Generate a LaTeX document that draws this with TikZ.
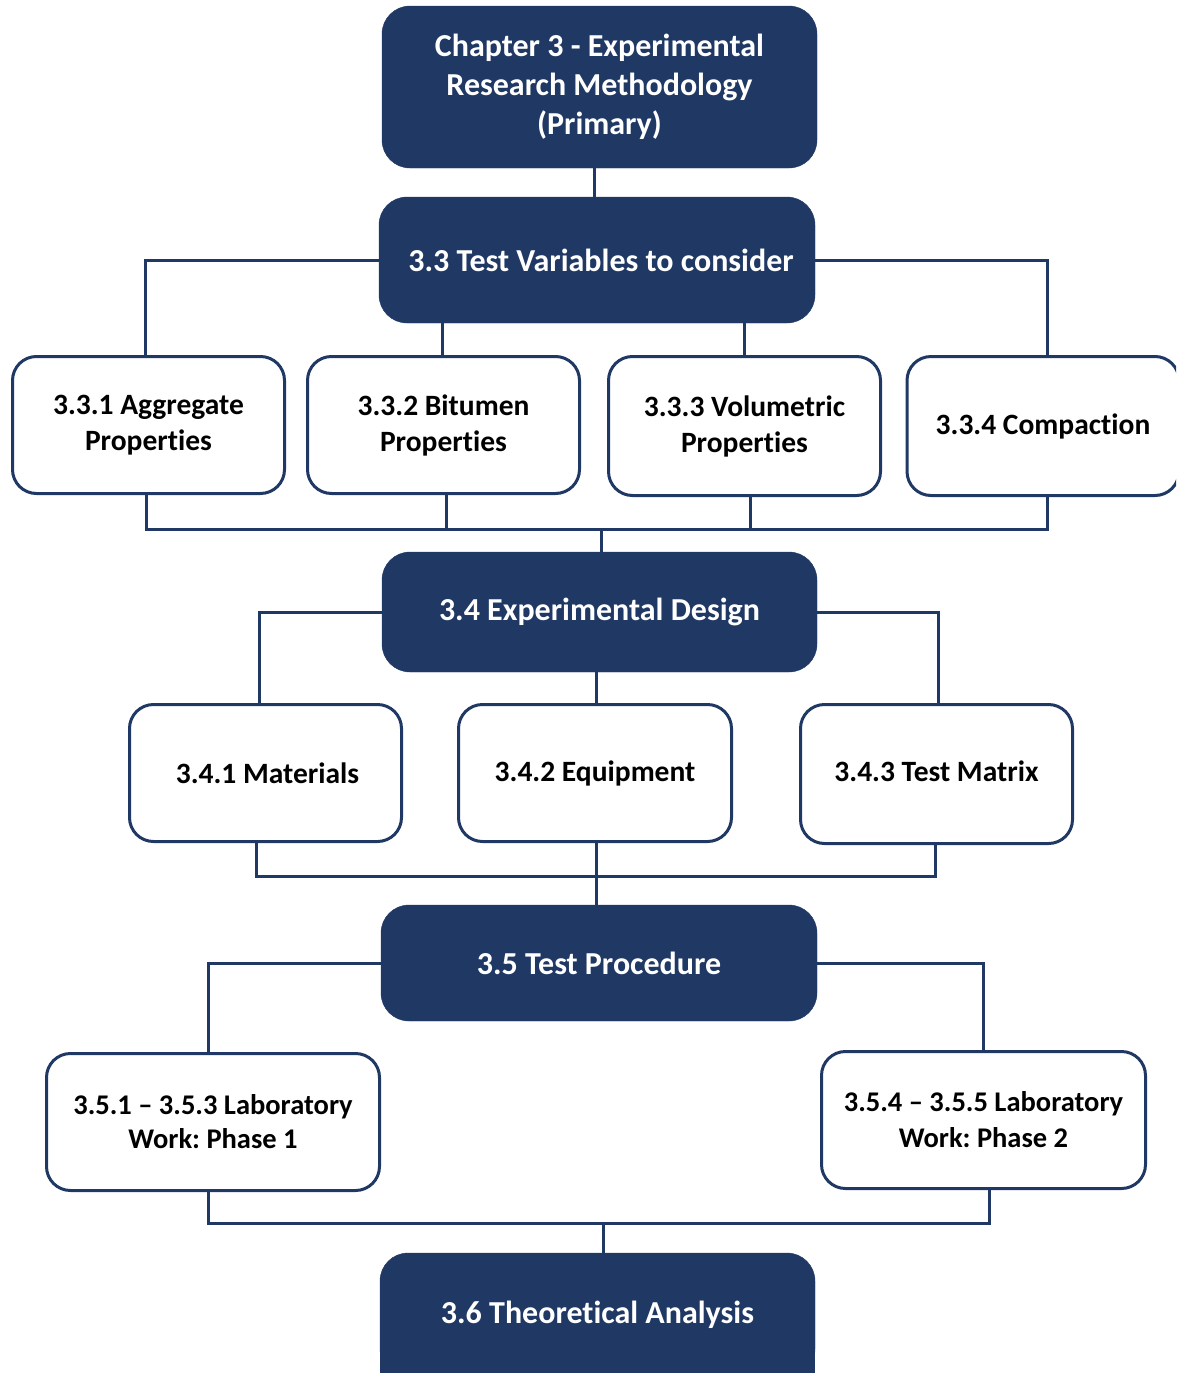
\documentclass[tikz,border=0pt]{standalone}
\usepackage{fontspec}
\setmainfont{Carlito}[Ligatures={NoCommon}]
\usetikzlibrary{backgrounds}
\definecolor{navy}{HTML}{203864}
\frenchspacing
\begin{document}
\begin{tikzpicture}[x=1pt,y=-1pt,
  headbox/.style={draw=navy, fill=navy, text=white, rounded corners=28pt,
    font=\fontsize{32}{39}\selectfont\bfseries, align=center, inner sep=0pt},
  subbox/.style={draw=navy, line width=3pt, fill=white, text=black, rounded corners=24pt,
    font=\fontsize{29.5}{36}\selectfont\bfseries, align=center, inner sep=0pt,
    minimum width=272pt, minimum height=137pt},
  link/.style={draw=navy, line width=3pt}]
\useasboundingbox (0,0) rectangle (1176,1373);
\clip (0,0) rectangle (1176,1373);

% main chapter heading and its sections
\node[headbox, minimum width=435pt, minimum height=162pt] (chap) at (599.5,87)
  {Chapter 3 - Experimental\\Research Methodology\\(Primary)};
\node[headbox, minimum width=436pt, minimum height=126pt] (t33) at (597,260)
  {\hspace*{8pt}3.3 Test Variables to consider};
\node[headbox, minimum width=435pt, minimum height=120pt] (t34) at (599.5,612)
  {3.4 Experimental Design};
\node[headbox, minimum width=436pt, minimum height=116pt] (t35) at (599,963)
  {3.5 Test Procedure};
\node[headbox, minimum width=435pt, minimum height=124pt] (t36) at (597.5,1315)
  {3.6 Theoretical Analysis};
\begin{scope}[on background layer]
  % square off the lower part of the last box, which runs past the page edge
  \fill[navy] ([yshift=30pt]t36.south west) rectangle ([yshift=-10pt]t36.south east);
\end{scope}

% 3.3 subsections
\node[subbox] (b331) at (148.5,425) {3.3.1 Aggregate\\Properties};
\node[subbox] (b332) at (443.5,425) {3.3.2 Bitumen\\Properties};
\node[subbox, minimum height=139pt] (b333) at (744.5,426) {3.3.3 Volumetric\\Properties};
\node[subbox, minimum height=139pt] (b334) at (1043,426) {3.3.4 Compaction};

% 3.4 subsections
\node[subbox] (b341) at (265.5,773) {\hspace*{4pt}3.4.1 Materials};
\node[subbox, minimum width=273pt] (b342) at (595,773) {\raisebox{-1pt}{3.4.2 Equipment}};
\node[subbox, minimum height=139pt] (b343) at (936.5,774) {\raisebox{5pt}{3.4.3 Test Matrix}};

% 3.5 subsections
\node[subbox, minimum width=333pt, font=\fontsize{28.5}{34}\selectfont\bfseries] (b351) at (213,1122)
  {3.5.1 -- 3.5.3 Laboratory\\Work: Phase 1};
\node[subbox, minimum width=324pt, font=\fontsize{28.5}{36}\selectfont\bfseries] (b354) at (983.5,1120)
  {3.5.4 -- 3.5.5 Laboratory\\Work: Phase 2};

% bus points
\coordinate (busA) at (601,529);
\coordinate (busB) at (596,876);
\coordinate (busC) at (603,1223);

% connectors
\draw[link] ([xshift=-5.5pt]chap.south) -- ([xshift=-5.5pt]chap.south |- t33.north);
\draw[link] (t33.west) -| ([xshift=-3.5pt]b331.north);
\draw[link] (t33.east) -| ([xshift=4pt]b334.north);
\draw[link] ([xshift=-1.5pt]b332.north) -- ([xshift=-1.5pt]b332.north |- t33.south);
\draw[link] (b333.north) -- (b333.north |- t33.south);

\draw[link] ([xshift=-2.5pt]b331.south) |- (busA) -| ([xshift=4pt]b334.south);
\draw[link] ([xshift=2.5pt]b332.south) -- ([xshift=2.5pt]b332.south |- busA);
\draw[link] ([xshift=5.5pt]b333.south) -- ([xshift=5.5pt]b333.south |- busA);
\draw[link] (busA) -- (busA |- t34.north);

\draw[link] (t34.west) -| ([xshift=-6.5pt]b341.north);
\draw[link] (t34.east) -| ([xshift=1.5pt]b343.north);
\draw[link] ([xshift=1pt]b342.north) -- ([xshift=1pt]b342.north |- t34.south);

\draw[link] ([xshift=-9.5pt]b341.south) |- (busB) -| ([xshift=-1.5pt]b343.south);
\draw[link] ([xshift=1pt]b342.south) -- ([xshift=1pt]b342.south |- t35.north);

\draw[link] (t35.west) -| ([xshift=-5pt]b351.north);
\draw[link] (t35.east) -| ([xshift=-0.5pt]b354.north);

\draw[link] ([xshift=-5pt]b351.south) |- (busC) -| ([xshift=5.5pt]b354.south);
\draw[link] (busC) -- (busC |- t36.north);
\end{tikzpicture}
\end{document}
